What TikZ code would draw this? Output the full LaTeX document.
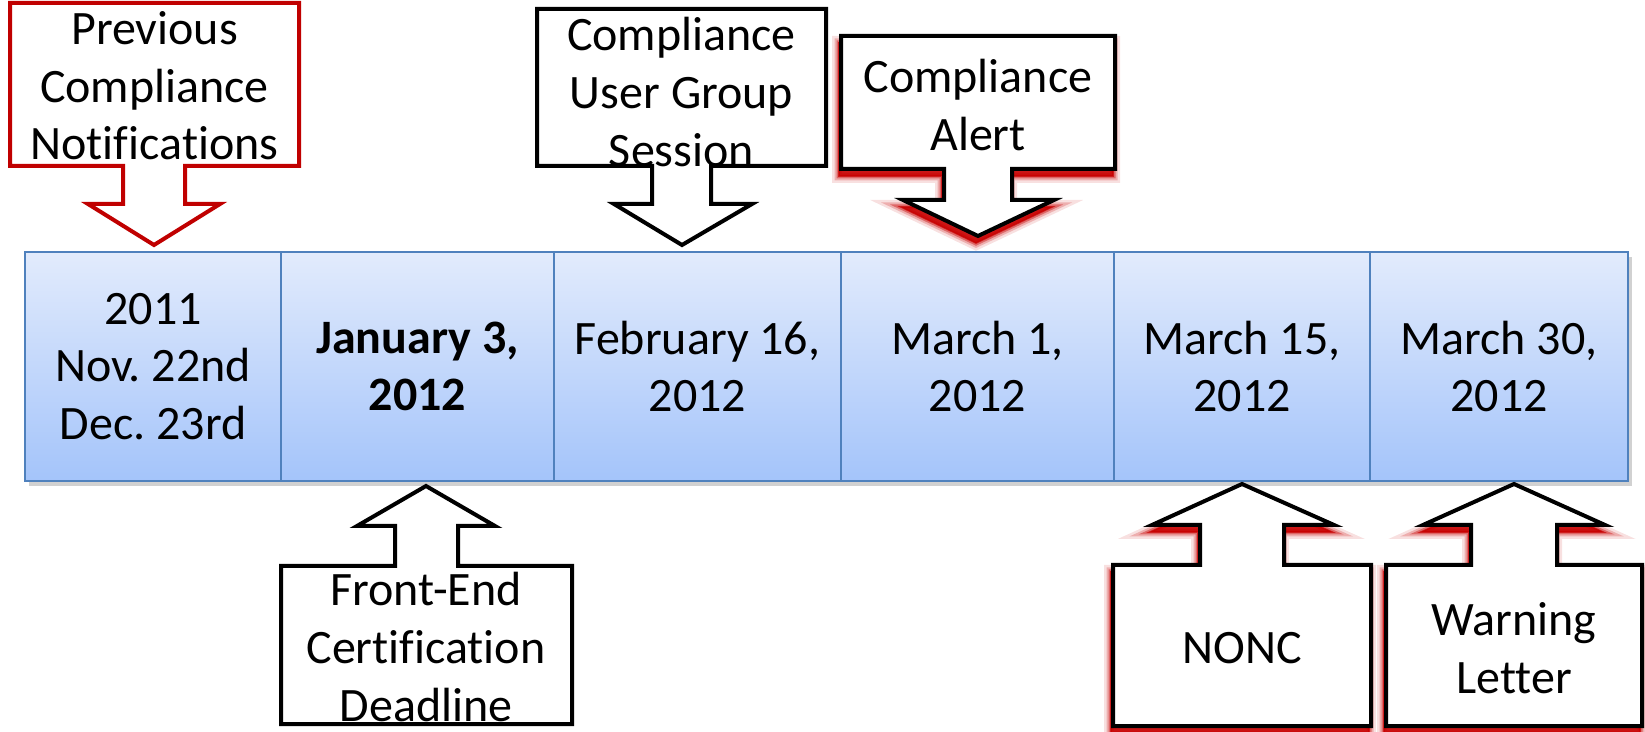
\documentclass[tikz,border=0pt]{standalone}
\usepackage{fontspec}
\setmainfont{Carlito}[Ligatures=NoCommon]
\frenchspacing

\definecolor{celltop}{RGB}{226,235,252}
\definecolor{cellbottom}{RGB}{164,196,250}
\definecolor{cellline}{RGB}{79,129,189}
\definecolor{notered}{RGB}{192,0,0}
\definecolor{glowred}{RGB}{200,0,0}

\tikzset{
  datecell/.style={draw=cellline, line width=1pt, top color=celltop, bottom color=cellbottom,
    minimum height=114.5pt, outer sep=0pt, align=center, font=\fontsize{24}{28.8}\selectfont},
  callout/.style={draw=black, fill=white, line width=2pt},
  prevcallout/.style={draw=notered, fill=white, line width=2pt},
  glow/.style={
    preaction={draw=glowred, fill=glowred, line width=7pt, opacity=0.12, transform canvas={shift={(-2,-7)}}},
    preaction={draw=glowred, fill=glowred, line width=4.5pt, opacity=0.22, transform canvas={shift={(-2,-7)}}},
    preaction={draw=glowred, fill=glowred, line width=2.5pt, opacity=0.4, transform canvas={shift={(-2,-7)}}},
    preaction={draw=glowred, fill=glowred, line width=0.8pt, opacity=0.7, transform canvas={shift={(-2,-7)}}}},
  notetext/.style={align=center, inner sep=0pt, font=\fontsize{24}{28.8}\selectfont}
}

\begin{document}
\begin{tikzpicture}[x=0.5pt, y=0.5pt]
  \useasboundingbox[fill=white] (0,0) rectangle (1645,-732);

  % timeline
  \fill[black, opacity=0.18] (29,-257) rectangle (1632,-486);
  \node[datecell, minimum width=128pt] (d1) at (153,-366.5) {2011\\Nov. 22nd\\Dec. 23rd};
  \node[datecell, minimum width=136.5pt] (d2) at (417.5,-366.5) {\textbf{January 3,}\\\textbf{2012}};
  \node[datecell, minimum width=143.5pt] (d3) at (697.5,-366.5) {February 16,\\2012};
  \node[datecell, minimum width=136.5pt] (d4) at (977.5,-366.5) {March 1,\\2012};
  \node[datecell, minimum width=128pt] (d5) at (1242,-366.5) {March 15,\\2012};
  \node[datecell, minimum width=129pt] (d6) at (1499,-366.5) {March 30,\\2012};

  % callouts above
  \draw[prevcallout] (10,-3) -- (299,-3) -- (299,-166) -- (185,-166) -- (185,-204) -- (220,-204)
    -- (154,-245) -- (88,-204) -- (123,-204) -- (123,-166) -- (10,-166) -- cycle;
  \node[notetext] (prev) at (154.5,-86) {Previous\\Compliance\\Notifications};

  \draw[callout] (537,-9) -- (826,-9) -- (826,-166) -- (711,-166) -- (711,-204) -- (752,-204)
    -- (682,-245) -- (614,-204) -- (652,-204) -- (652,-166) -- (537,-166) -- cycle;
  \node[notetext] (session) at (681.5,-92) {Compliance\\User Group\\Session};

  \draw[callout, glow] (841,-36) -- (1115,-36) -- (1115,-169) -- (1012,-169) -- (1012,-200) -- (1054,-200)
    -- (978,-236) -- (903,-200) -- (944,-200) -- (944,-169) -- (841,-169) -- cycle;
  \node[notetext] (alert) at (978,-105) {Compliance\\Alert};

  % callouts below
  \draw[callout] (281,-566) -- (395,-566) -- (395,-526) -- (357,-526) -- (426,-486) -- (495,-526)
    -- (458,-526) -- (458,-566) -- (572,-566) -- (572,-724) -- (281,-724) -- cycle;
  \node[notetext] (frontend) at (426,-647) {Front-End\\Certification\\Deadline};

  \draw[callout, glow] (1113,-565) -- (1200,-565) -- (1200,-525) -- (1152,-525) -- (1242,-484) -- (1334,-525)
    -- (1284,-525) -- (1284,-565) -- (1371,-565) -- (1371,-726) -- (1113,-726) -- cycle;
  \node[notetext] (nonc) at (1242,-648) {NONC};

  \draw[callout, glow] (1386,-565) -- (1471,-565) -- (1471,-525) -- (1423,-525) -- (1514,-484) -- (1605,-525)
    -- (1557,-525) -- (1557,-565) -- (1642,-565) -- (1642,-726) -- (1386,-726) -- cycle;
  \node[notetext] (warning) at (1514,-648) {Warning\\Letter};
\end{tikzpicture}
\end{document}
